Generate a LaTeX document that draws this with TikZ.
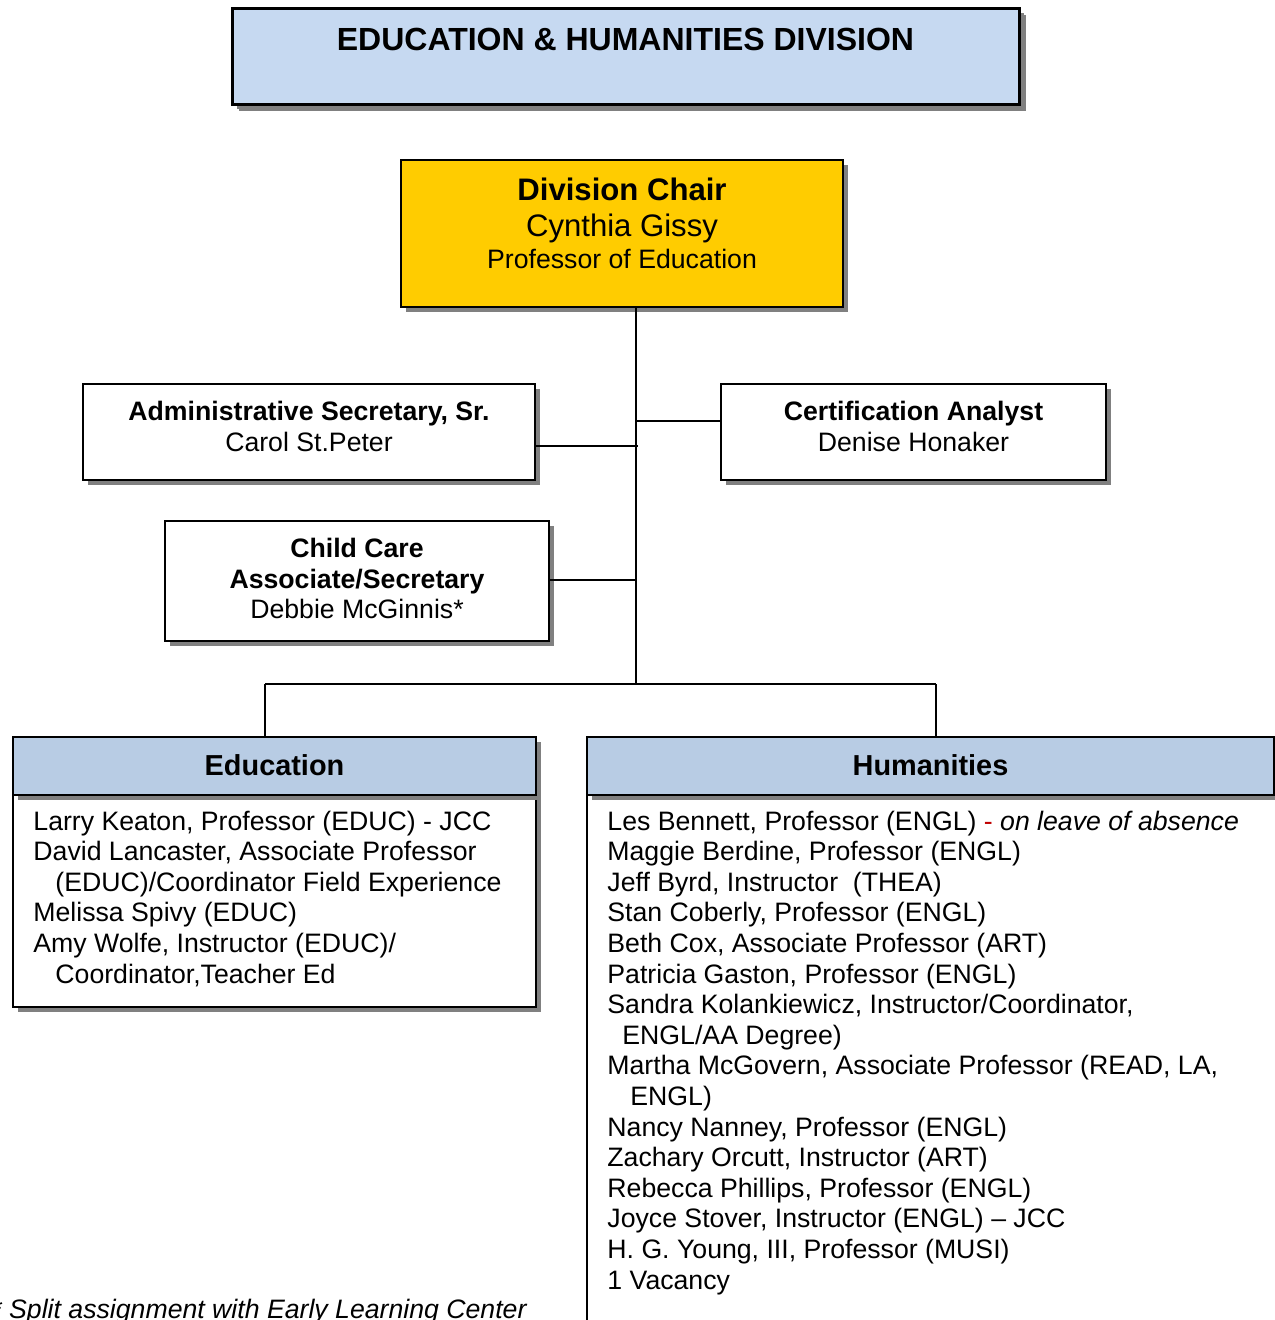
\documentclass[tikz,border=0pt]{standalone}
\usepackage{fontspec}
\setmainfont{Liberation Sans}
\usetikzlibrary{shadows,calc}
\definecolor{titleblue}{HTML}{C6D9F1}
\definecolor{headblue}{HTML}{B8CCE4}
\definecolor{chairgold}{HTML}{FFCC00}
\definecolor{shadowgray}{HTML}{808080}
\definecolor{darkred}{HTML}{C00000}
\tikzset{
  orgbox/.style 2 args={draw=black, line width=0.9pt, fill=white, inner sep=0pt,
    minimum width=#1*0.45pt, minimum height=#2*0.45pt,
    drop shadow={shadow xshift=2.3pt, shadow yshift=-2.3pt, fill=shadowgray, opacity=1}},
  conn/.style={draw=black, line width=0.9pt},
  t12/.style={anchor=base, inner sep=0pt, font=\fontsize{12}{13.8}\selectfont},
  t12b/.style={anchor=base, inner sep=0pt, font=\fontsize{12}{13.8}\selectfont\bfseries},
  t13b/.style={anchor=base, inner sep=0pt, font=\fontsize{13}{15}\selectfont\bfseries},
  t14/.style={anchor=base, inner sep=0pt, font=\fontsize{14}{16}\selectfont},
  t14b/.style={anchor=base, inner sep=0pt, font=\fontsize{14}{16}\selectfont\bfseries},
  line/.style={anchor=base west, inner sep=0pt, font=\fontsize{12}{13.8}\selectfont},
}
\begin{document}
\begin{tikzpicture}[x=0.45pt, y=-0.45pt]
\useasboundingbox (0,0) rectangle (1275,1320);
\clip (0,0) rectangle (1275,1320);

% Title
\node[orgbox={787}{96}, fill=titleblue, line width=1.35pt,
  drop shadow={shadow xshift=3pt, shadow yshift=-3pt, fill=shadowgray, opacity=1}] (title) at (625.5,56) {};
\node[t14b, font=\fontsize{14.4}{16}\selectfont\bfseries] (titletext) at (625.5,50) {EDUCATION \& HUMANITIES DIVISION};

% Division chair
\node[orgbox={442}{147}, fill=chairgold] (chair) at (622,233.5) {};
\node[t14b] (chair1) at (622,200) {Division Chair};
\node[t14] (chair2) at (622,236.5) {Cynthia Gissy};
\node[t12] (chair3) at (622,268.5) {Professor of Education};

% Administrative secretary
\node[orgbox={452}{96}] (admin) at (309,432) {};
\node[t12b] (admin1) at (309,420.5) {Administrative Secretary, Sr.};
\node[t12] (admin2) at (309,451) {Carol St.Peter};

% Certification analyst
\node[orgbox={385}{96}] (cert) at (913.5,432) {};
\node[t12b] (cert1) at (913.5,420.5) {Certification Analyst};
\node[t12] (cert2) at (913.5,451) {Denise Honaker};

% Child care
\node[orgbox={384}{120}] (child) at (357,581) {};
\node[t12b] (child1) at (357,557.5) {Child Care};
\node[t12b] (child2) at (357,588) {Associate/Secretary};
\node[t12] (child3) at (357,618.5) {Debbie McGinnis*};

% Education
\node[orgbox={523}{212}] (edubody) at (274.5,901) {};
\node[orgbox={523}{58}, fill=headblue] (eduhead) at (274.5,766) {};
\node[t13b] (eduheadtext) at (274.5,775.5) {Education};
\node[line] (e1) at (33,830) {Larry Keaton, Professor (EDUC) - JCC};
\node[line] (e2) at (33,860.6) {David Lancaster, Associate Professor};
\node[line] (e3) at (55,891.2) {(EDUC)/Coordinator Field Experience};
\node[line] (e4) at (33,921.8) {Melissa Spivy (EDUC)};
\node[line] (e5) at (33,952.4) {Amy Wolfe, Instructor (EDUC)/};
\node[line] (e6) at (55,983) {Coordinator,Teacher Ed};

% Humanities
\node[orgbox={693}{540}] (humbody) at (933.5,1065) {};
\node[orgbox={687}{58}, fill=headblue] (humhead) at (930.5,766) {};
\node[t13b] (humheadtext) at (930.5,775.5) {Humanities};
\node[line] (h1) at (607,830) {Les Bennett, Professor (ENGL) \textcolor{darkred}{-} \textit{on leave of absence}};
\node[line] (h2) at (607,860.6) {Maggie Berdine, Professor (ENGL)};
\node[line] (h3) at (607,891.2) {Jeff Byrd, Instructor\ \ (THEA)};
\node[line] (h4) at (607,921.8) {Stan Coberly, Professor (ENGL)};
\node[line] (h5) at (607,952.4) {Beth Cox, Associate Professor (ART)};
\node[line] (h6) at (607,983) {Patricia Gaston, Professor (ENGL)};
\node[line] (h7) at (607,1013.6) {Sandra Kolankiewicz, Instructor/Coordinator,};
\node[line] (h8) at (622,1044.2) {ENGL/AA Degree)};
\node[line] (h9) at (607,1074.8) {Martha McGovern, Associate Professor (READ, LA,};
\node[line] (h10) at (630,1105.4) {ENGL)};
\node[line] (h11) at (607,1136) {Nancy Nanney, Professor (ENGL)};
\node[line] (h12) at (607,1166.6) {Zachary Orcutt, Instructor (ART)};
\node[line] (h13) at (607,1197.2) {Rebecca Phillips, Professor (ENGL)};
\node[line] (h14) at (607,1227.8) {Joyce Stover, Instructor (ENGL) -- JCC};
\node[line] (h15) at (607,1258.4) {H. G. Young, III, Professor (MUSI)};
\node[line] (h16) at (607,1289) {1 Vacancy};

% Footnote
\node[line, font=\fontsize{12}{13.8}\selectfont\itshape] (foot) at (-9,1318) {* Split assignment with Early Learning Center};

% Connectors
\coordinate (trunktop) at (636,307);
\coordinate (trunkbot) at (636,684);
\coordinate (adminJ) at (638,446);
\coordinate (certJ) at (636,421);
\coordinate (childJ) at (636,580);
\coordinate (busL) at (265,684);
\coordinate (busR) at (936,684);
\draw[conn] (chair.south -| trunktop) -- (trunkbot);
\draw[conn] (admin.east |- adminJ) -- (adminJ);
\draw[conn] (certJ) -- (certJ -| cert.west);
\draw[conn] (child.east |- childJ) -- (childJ);
\draw[conn] (busL) -- (busR);
\draw[conn] (busL) -- (busL |- eduhead.north);
\draw[conn] (busR) -- (busR |- humhead.north);
\end{tikzpicture}
\end{document}
